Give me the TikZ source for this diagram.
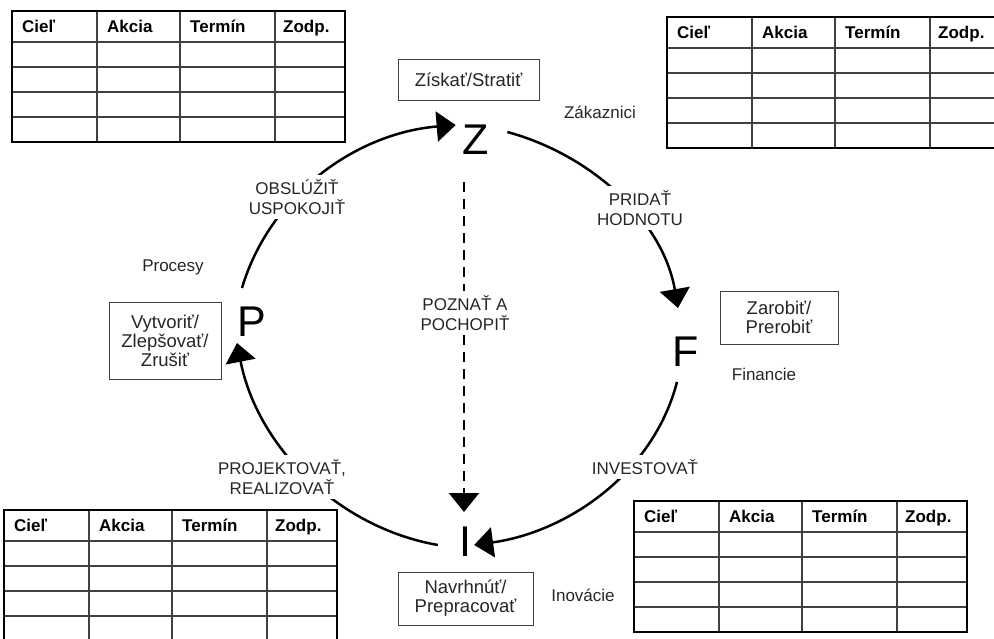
\documentclass[tikz,border=0pt]{standalone}
\usepackage{fontspec}
\setmainfont{Liberation Sans}
\usetikzlibrary{arrows.meta}

% empty plan table: name prefix, top left corner
\newcommand{\plantable}[3]{%
  \begin{scope}[shift={(#2,#3)}]
    \foreach \y in {31,56,81,106}
      \draw[gridline] (0,\y) -- (333,\y);
    \foreach \x in {85,168,263}
      \draw[gridline] (\x,0) -- (\x,131);
    \draw[tabframe] (0,0) rectangle (333,131);
    \node[head] (#1-ciel) at (10,21.5) {Cieľ};
    \node[head] (#1-akcia) at (95,21.5) {Akcia};
    \node[head] (#1-termin) at (178,21.5) {Termín};
    \node[head] (#1-zodp) at (271,21.5) {Zodp.};
  \end{scope}}

\begin{document}
\begin{tikzpicture}[x=1pt,y=-1pt,
    letter/.style={font=\fontsize{43}{43}\selectfont,inner sep=0pt},
    box/.style={draw=black!75,line width=0.8pt,fill=white,align=center,
      font=\fontsize{18.5}{19}\selectfont,text=black!85},
    lbl/.style={fill=white,align=center,inner sep=4pt,
      font=\fontsize{17}{20}\selectfont,text=black!85},
    area/.style={font=\fontsize{17}{20}\selectfont,text=black!85},
    flow/.style={line width=2.5pt,-{Triangle[length=19pt,width=30pt]}},
    head/.style={anchor=base west,inner sep=0pt,font=\fontsize{17}{20}\selectfont\bfseries},
    gridline/.style={line width=1.4pt,black!75},
    tabframe/.style={line width=2.8pt}]
    \useasboundingbox (0,0) rectangle (994,639);
    \clip (0,0) rectangle (994,639);
    %
    \plantable{tl}{12}{11}
    \plantable{tr}{667}{17}
    \plantable{bl}{4}{510}
    \plantable{br}{634}{501}
    %
    \node[letter] (Z) at (476,140) {Z};
    \node[letter] (F) at (686,352) {F};
    \node[letter] (I) at (465,542) {I};
    \node[letter] (P) at (252,322) {P};
    %
    \node[box,minimum width=141pt,minimum height=41pt] (zs) at (468.5,79.5) {Získať/Stratiť};
    \node[box,minimum width=112pt,minimum height=77pt] (vz) at (165,340.5) {Vytvoriť/\\Zlepšovať/\\Zrušiť};
    \node[box,minimum width=118pt,minimum height=53pt] (zp) at (779,317.5) {Zarobiť/\\Prerobiť};
    \node[box,minimum width=135pt,minimum height=53pt] (np) at (465.5,598.5) {Navrhnúť/\\Prepracovať};
    %
    \node[area] (zak) at (600,112) {Zákaznici};
    \node[area] (proc) at (173,267) {Procesy};
    \node[area] (fin) at (764,374) {Financie};
    \node[area] (inov) at (583,595) {Inovácie};
    %
    \draw[flow] ([shift={(-10,-19)}]P.north)
      .. controls (270,194) and (357,133) .. ([shift={(-7,0)}]Z.north west);
    \draw[flow] ([shift={(18,7)}]Z.north east)
      .. controls (592,155) and (663,221) .. ([shift={(-8,-29)}]F.north);
    \draw[flow] ([shift={(-9,15)}]F.south)
      .. controls (653,474) and (567,532) .. ([shift={(3,3)}]I.east);
    \draw[flow] ([shift={(-21,3)}]I.west)
      .. controls (336,527) and (257,445) .. ([shift={(-15,6)}]P.south);
    \draw[flow,dash pattern=on 10pt off 7pt] ([shift={(-12,27)}]Z.south)
      -- ([shift={(-1,-15)}]I.north);
    %
    \node[lbl] (serve) at (297,197) {OBSLÚŽIŤ\\USPOKOJIŤ};
    \node[lbl] (value) at (640,208) {PRIDAŤ\\HODNOTU};
    \node[lbl] (know) at (465,313) {POZNAŤ A\\POCHOPIŤ};
    \node[lbl] (invest) at (645,467) {INVESTOVAŤ};
    \node[lbl] (build) at (282,477) {PROJEKTOVAŤ,\\REALIZOVAŤ};
  \end{tikzpicture}
\end{document}
